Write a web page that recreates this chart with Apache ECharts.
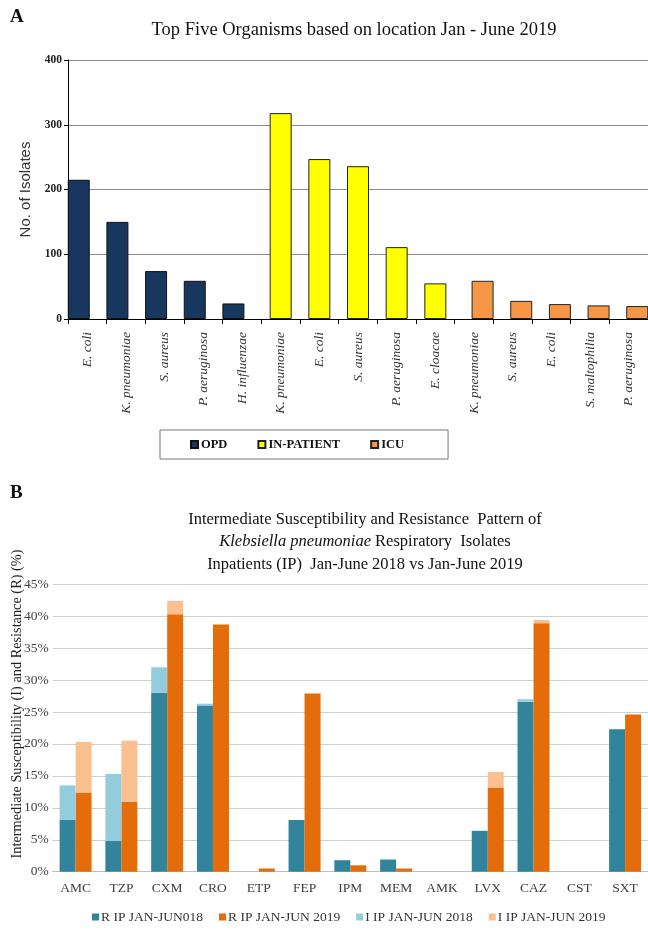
<!DOCTYPE html>
<html>
<head>
<meta charset="utf-8">
<script src="https://cdn.jsdelivr.net/npm/echarts@6/dist/echarts.min.js"></script>
<style>
html, body { margin: 0; padding: 0; background: #fff; }
#chart { width: 648px; height: 937px; }
</style>
</head>
<body>
<div id="chart"></div>
<script>
// Panel A: top five organisms by location
var organisms = ['E. coli', 'K. pneumoniae', 'S. aureus', 'P. aeruginosa', 'H. influenzae',
    'K. pneumoniae', 'E. coli', 'S. aureus', 'P. aeruginosa', 'E. cloacae',
    'K. pneumoniae', 'S. aureus', 'E. coli', 'S. maltophilia', 'P. aeruginosa'];
var opdCounts = [215, 150, 74, 59, 24, null, null, null, null, null, null, null, null, null, null];
var inpatientCounts = [null, null, null, null, null, 318, 247, 236, 111, 55, null, null, null, null, null];
var icuCounts = [null, null, null, null, null, null, null, null, null, null, 59, 28, 23, 21, 20];

// Panel B: K. pneumoniae resistance (%)
var drugs = ['AMC', 'TZP', 'CXM', 'CRO', 'ETP', 'FEP', 'IPM', 'MEM', 'AMK', 'LVX', 'CAZ', 'CST', 'SXT'];
var resist2018 = [8.1, 4.8, 28.0, 26.0, 0, 8.1, 1.8, 1.9, 0, 6.4, 26.6, 0, 22.3];
var resist2019 = [12.4, 10.9, 40.3, 38.7, 0.5, 27.9, 1.0, 0.5, 0, 13.1, 38.9, 0, 24.6];
var inter2018 = [5.4, 10.5, 4.0, 0.3, 0, 0, 0, 0, 0, 0, 0.4, 0, 0];
var inter2019 = [7.9, 9.6, 2.1, 0, 0, 0, 0, 0, 0, 2.5, 0.5, 0, 0];

var serif = 'Liberation Serif';

var chart = echarts.init(document.getElementById('chart'));

var option = {
    animation: false,
    backgroundColor: '#fff',
    title: [
        {
            text: 'Top Five Organisms based on location Jan - June 2019',
            left: 349, top: 16, textAlign: 'center',
            textStyle: { fontFamily: serif, fontSize: 18.5, fontWeight: 'normal', color: '#111' }
        },
        {
            text: '{n|Intermediate Susceptibility and Resistance  Pattern of}\n' +
                '{i|Klebsiella pneumoniae}{n| Respiratory  Isolates}\n' +
                '{n|Inpatients (IP)  Jan-June 2018 vs Jan-June 2019}',
            left: 360, top: 503, textAlign: 'center',
            textStyle: {
                rich: {
                    n: { fontFamily: serif, fontSize: 16.5, fontWeight: 'normal', color: '#111', lineHeight: 22.5 },
                    i: { fontFamily: serif, fontSize: 16.5, fontWeight: 'normal', fontStyle: 'italic', color: '#111', lineHeight: 22.5 }
                }
            }
        }
    ],
    graphic: [
        { type: 'text', left: 10, top: 8, style: { text: 'A', font: 'bold 19px "Liberation Serif"', fill: '#111' } },
        { type: 'text', left: 10, top: 484, style: { text: 'B', font: 'bold 19px "Liberation Serif"', fill: '#111' } },
        {
            type: 'text', x: 17, y: 704, rotation: Math.PI / 2,
            style: {
                text: 'Intermediate Susceptibility (I) and Resistance (R) (%)',
                font: '14.3px "Liberation Serif"', fill: '#222',
                align: 'center', verticalAlign: 'middle'
            }
        }
    ],
    legend: [
        {
            data: ['OPD', 'IN-PATIENT', 'ICU'],
            left: 160, top: 430, width: 285,
            padding: [8, 44, 8, 30],
            itemGap: 30,
            itemWidth: 7, itemHeight: 7,
            icon: 'rect',
            borderColor: '#777', borderWidth: 1,
            textStyle: { fontFamily: serif, fontSize: 12.5, fontWeight: 'bold', color: '#111', padding: [0, 0, 0, -2] }
        },
        {
            data: ['R IP JAN-JUN018', 'R IP JAN-JUN 2019', 'I IP JAN-JUN 2018', 'I IP JAN-JUN 2019'],
            left: 87, top: 905,
            itemGap: 16,
            itemWidth: 7, itemHeight: 7,
            icon: 'rect',
            textStyle: { fontFamily: serif, fontSize: 13.5, color: '#333', padding: [0, 0, 0, -3] }
        }
    ],
    grid: [
        { left: 68, top: 60, right: -4, height: 259 },
        { left: 52.7, top: 584.2, right: -12.5, height: 287.5 }
    ],
    xAxis: [
        {
            gridIndex: 0,
            type: 'category',
            data: organisms,
            axisLine: { lineStyle: { color: '#000', width: 1 } },
            axisTick: { show: true, length: 5, lineStyle: { color: '#000' } },
            axisLabel: {
                rotate: 90, interval: 0, margin: 13,
                fontFamily: serif, fontStyle: 'italic', fontSize: 13.5, color: '#333'
            }
        },
        {
            gridIndex: 1,
            type: 'category',
            data: drugs,
            axisLine: { lineStyle: { color: '#bfbfbf', width: 1 } },
            axisTick: { show: false },
            axisLabel: { interval: 0, margin: 10, fontFamily: serif, fontSize: 13.5, color: '#404040' }
        }
    ],
    yAxis: [
        {
            gridIndex: 0,
            type: 'value',
            min: 0, max: 400, interval: 100,
            name: 'No. of Isolates',
            nameLocation: 'middle',
            nameGap: 33,
            nameTextStyle: { fontFamily: 'Liberation Sans', fontSize: 15, color: '#333' },
            axisLine: { show: true, lineStyle: { color: '#000' } },
            axisTick: { show: true, length: 4, lineStyle: { color: '#000' } },
            axisLabel: { fontFamily: serif, fontWeight: 'bold', fontSize: 11.5, color: '#222', margin: 6 },
            splitLine: { lineStyle: { color: '#8c8c8c', width: 1 } }
        },
        {
            gridIndex: 1,
            type: 'value',
            min: 0, max: 45, interval: 5,
            axisLine: { show: false },
            axisTick: { show: false },
            axisLabel: { formatter: '{value}%', fontFamily: serif, fontSize: 13.5, color: '#404040', margin: 4 },
            splitLine: { lineStyle: { color: '#cfcfcf', width: 1 } }
        }
    ],
    series: [
        {
            name: 'OPD', type: 'bar', xAxisIndex: 0, yAxisIndex: 0,
            data: opdCounts, barWidth: 22, barGap: '-61%',
            itemStyle: { color: '#17375e', borderColor: '#111', borderWidth: 1 }
        },
        {
            name: 'IN-PATIENT', type: 'bar', xAxisIndex: 0, yAxisIndex: 0,
            data: inpatientCounts, barWidth: 22, barGap: '-61%',
            itemStyle: { color: '#ffff00', borderColor: '#222', borderWidth: 1 }
        },
        {
            name: 'ICU', type: 'bar', xAxisIndex: 0, yAxisIndex: 0,
            data: icuCounts, barWidth: 22, barGap: '-61%',
            itemStyle: { color: '#f79646', borderColor: '#222', borderWidth: 1 }
        },
        {
            name: 'R IP JAN-JUN018', type: 'bar', xAxisIndex: 1, yAxisIndex: 1,
            stack: 'y2018', data: resist2018, barWidth: 16, barGap: 0,
            itemStyle: { color: '#31849b' }
        },
        {
            name: 'R IP JAN-JUN 2019', type: 'bar', xAxisIndex: 1, yAxisIndex: 1,
            stack: 'y2019', data: resist2019, barWidth: 16, barGap: 0,
            itemStyle: { color: '#e46c0a' }
        },
        {
            name: 'I IP JAN-JUN 2018', type: 'bar', xAxisIndex: 1, yAxisIndex: 1,
            stack: 'y2018', data: inter2018, barWidth: 16, barGap: 0,
            itemStyle: { color: '#93cddd' }
        },
        {
            name: 'I IP JAN-JUN 2019', type: 'bar', xAxisIndex: 1, yAxisIndex: 1,
            stack: 'y2019', data: inter2019, barWidth: 16, barGap: 0,
            itemStyle: { color: '#fac090' }
        }
    ]
};

chart.setOption(option);
</script>
</body>
</html>
